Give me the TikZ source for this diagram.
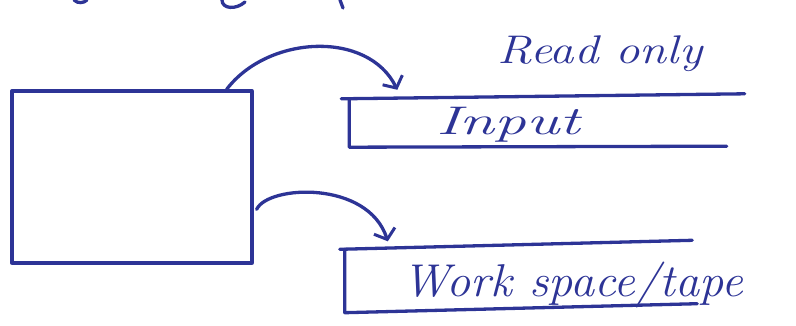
\documentclass[tikz,border=0pt]{standalone}
\usetikzlibrary{arrows.meta}
\definecolor{ink}{RGB}{45,52,150}
\begin{document}
\begin{tikzpicture}[x=1pt,y=-1pt,
  pen/.style={draw=ink,line width=3.3pt,line cap=round,line join=round},
  arr/.style={pen,-{Straight Barb[length=9pt,width=22pt,line width=3pt]}},
  hand/.style={text=ink,font=\itshape,inner sep=0pt,anchor=base},
  region/.style={draw=none,inner sep=0pt}]
\useasboundingbox (0,0) rectangle (796,326);
% partially visible strokes at the top edge
\draw[pen] (74,0) .. controls (78,4) and (84,3) .. (87,0);
\draw[pen] (222,0) .. controls (222,9) and (236,10) .. (245,2);
\draw[pen] (340,0) -- (343,8);
% machine box
\node[region,pen,minimum width=240pt,minimum height=172pt] (cpu) at (132,177) {};
% input tape
\node[region,minimum width=395pt,minimum height=48pt] (inp) at (547,123) {};
\draw[pen] ([xshift=-8pt]inp.north west) -- ([yshift=5pt]inp.north east);
\draw[pen] (inp.north west) -- (inp.south west) -- ([xshift=-18pt,yshift=1pt]inp.south east);
\node[hand,font=\fontsize{40}{44}\selectfont\itshape,xscale=1.58] (inptxt) at (508,135) {Input};
\node[hand,font=\fontsize{40}{44}\selectfont\itshape,xscale=1.22] (ro) at (600,64) {Read only};
% work tape
\node[region,minimum width=350pt,minimum height=63pt] (work) at (520,281) {};
\draw[pen] ([xshift=-5pt]work.north west) -- ([xshift=-3pt,yshift=9pt]work.north east);
\draw[pen] (work.north west) -- (work.south west) -- ([xshift=2pt,yshift=9pt]work.south east);
\node[hand,font=\fontsize{46}{50}\selectfont\itshape,xscale=1.05] (wtxt) at (573,296) {Work space/tape};
% connectors
\draw[arr] ([xshift=-27pt]cpu.north east) .. controls (268,35) and (368,30) .. ([xshift=48pt,yshift=9pt]inp.north west);
\draw[arr] ([xshift=3pt,yshift=-120pt]cpu.north east) .. controls (268,185) and (368,180) .. ([xshift=43pt,yshift=8pt]work.north west);
\end{tikzpicture}
\end{document}
